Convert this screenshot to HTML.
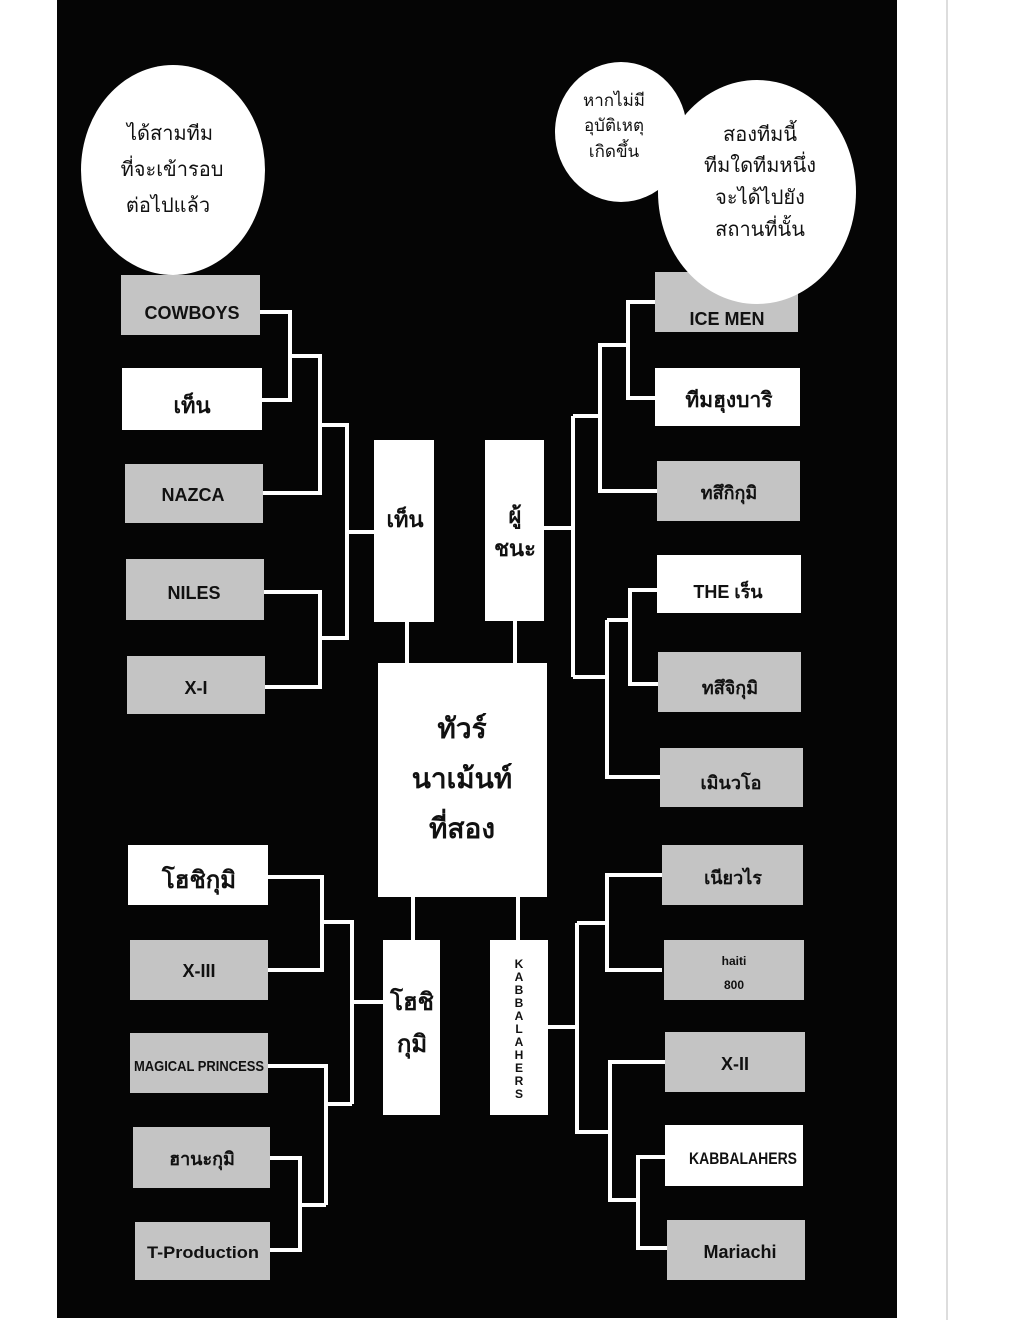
<!DOCTYPE html>
<html><head><meta charset="utf-8"><style>
html,body{margin:0;padding:0;background:#fff;}
svg{display:block;}
text{font-family:"Liberation Sans","DejaVu Sans",sans-serif;font-weight:bold;fill:#111;text-anchor:middle;}
.b{font-weight:normal;}
</style></head><body>
<svg width="1020" height="1320" viewBox="0 0 1020 1320" xmlns="http://www.w3.org/2000/svg">
<rect width="1020" height="1320" fill="#fff"/>
<rect x="57" y="0" width="840" height="1318" fill="#050505"/>
<line x1="947" y1="0" x2="947" y2="1320" stroke="#ddd" stroke-width="2"/>

<!-- connectors -->
<g stroke="#fff" stroke-width="4" fill="none">
<!-- left top -->
<polyline points="260,312 290,312 290,400 262,400"/>
<polyline points="290,356 320,356 320,493 263,493"/>
<polyline points="320,425 347,425 347,638 320,638"/>
<polyline points="264,592 320,592 320,687 265,687"/>
<line x1="347" y1="532" x2="374" y2="532"/>
<!-- right top -->
<line x1="544" y1="528" x2="573" y2="528"/>
<polyline points="573,416 573,677"/>
<polyline points="573,416 600,416 600,345 628,345"/>
<polyline points="600,416 600,491 657,491"/>
<polyline points="655,302 628,302 628,398 655,398"/>
<polyline points="573,677 607,677"/>
<polyline points="607,620 607,777 660,777"/>
<polyline points="607,620 630,620"/>
<polyline points="657,590 630,590 630,684 658,684"/>
<!-- center -->
<line x1="407" y1="622" x2="407" y2="663"/>
<line x1="515" y1="621" x2="515" y2="663"/>
<line x1="413" y1="897" x2="413" y2="940"/>
<line x1="518" y1="897" x2="518" y2="940"/>
<!-- left bottom -->
<polyline points="268,877 322,877 322,970 268,970"/>
<polyline points="322,922 352,922 352,1104"/>
<line x1="352" y1="1002" x2="383" y2="1002"/>
<polyline points="268,1066 326,1066 326,1205"/>
<line x1="326" y1="1104" x2="352" y2="1104"/>
<polyline points="270,1158 300,1158 300,1250 270,1250"/>
<line x1="300" y1="1205" x2="326" y2="1205"/>
<!-- right bottom -->
<line x1="548" y1="1027" x2="577" y2="1027"/>
<polyline points="577,923 577,1132 610,1132"/>
<polyline points="662,875 607,875 607,970 662,970"/>
<line x1="577" y1="923" x2="607" y2="923"/>
<polyline points="665,1062 610,1062 610,1200 638,1200"/>
<polyline points="665,1157 638,1157 638,1248 667,1248"/>
</g>

<!-- gray boxes -->
<g fill="#c4c4c4">
<rect x="121" y="275" width="139" height="60"/>
<rect x="125" y="464" width="138" height="59"/>
<rect x="126" y="559" width="138" height="61"/>
<rect x="127" y="656" width="138" height="58"/>
<rect x="655" y="272" width="143" height="60"/>
<rect x="657" y="461" width="143" height="60"/>
<rect x="658" y="652" width="143" height="60"/>
<rect x="660" y="748" width="143" height="59"/>
<rect x="662" y="845" width="141" height="60"/>
<rect x="664" y="940" width="140" height="60"/>
<rect x="665" y="1032" width="140" height="60"/>
<rect x="667" y="1220" width="138" height="60"/>
<rect x="130" y="940" width="138" height="60"/>
<rect x="130" y="1033" width="138" height="60"/>
<rect x="133" y="1127" width="137" height="61"/>
<rect x="135" y="1222" width="135" height="58"/>
</g>
<!-- white boxes -->
<g fill="#fff">
<rect x="122" y="368" width="140" height="62"/>
<rect x="655" y="368" width="145" height="58"/>
<rect x="657" y="555" width="144" height="58"/>
<rect x="665" y="1125" width="138" height="61"/>
<rect x="128" y="845" width="140" height="60"/>
<rect x="374" y="440" width="60" height="182"/>
<rect x="485" y="440" width="59" height="181"/>
<rect x="378" y="663" width="169" height="234"/>
<rect x="383" y="940" width="57" height="175"/>
<rect x="490" y="940" width="58" height="175"/>
</g>

<!-- bubbles -->
<g fill="#fff">
<ellipse cx="173" cy="170" rx="92" ry="105"/>
<ellipse cx="621" cy="132" rx="66" ry="70"/>
<ellipse cx="757" cy="192" rx="99" ry="112"/>
</g>
<g font-size="20">
<text class="b" x="170" y="140">ได้สามทีม</text>
<text class="b" x="172" y="176">ที่จะเข้ารอบ</text>
<text class="b" x="168" y="212">ต่อไปแล้ว</text>
<text class="b" x="614" y="106" font-size="17">หากไม่มี</text>
<text class="b" x="614" y="131" font-size="17">อุบัติเหตุ</text>
<text class="b" x="614" y="157" font-size="17">เกิดขึ้น</text>
<text class="b" x="760" y="141">สองทีมนี้</text>
<text class="b" x="760" y="172">ทีมใดทีมหนึ่ง</text>
<text class="b" x="760" y="204">จะได้ไปยัง</text>
<text class="b" x="760" y="236">สถานที่นั้น</text>
</g>

<!-- labels -->
<g font-size="18">
<text x="192" y="319">COWBOYS</text>
<text x="192" y="413" font-size="22">เท็น</text>
<text x="193" y="501">NAZCA</text>
<text x="194" y="599">NILES</text>
<text x="196" y="694">X-I</text>
<text x="727" y="325">ICE MEN</text>
<text x="729" y="407" font-size="21">ทีมฮุงบาริ</text>
<text x="729" y="499">ทสึกิกุมิ</text>
<text x="728" y="598">THE เร็น</text>
<text x="730" y="694">ทสึจิกุมิ</text>
<text x="731" y="789">เมินวโอ</text>
<text x="733" y="884">เนียวไร</text>
<text x="734" y="965" font-size="12">haiti</text>
<text x="734" y="989" font-size="12">800</text>
<text x="735" y="1070">X-II</text>
<text x="743" y="1164" font-size="17" textLength="108" lengthAdjust="spacingAndGlyphs">KABBALAHERS</text>
<text x="740" y="1258">Mariachi</text>
<text x="199" y="888" font-size="24">โฮชิกุมิ</text>
<text x="199" y="977">X-III</text>
<text x="199" y="1071" font-size="15" textLength="130" lengthAdjust="spacingAndGlyphs">MAGICAL PRINCESS</text>
<text x="202" y="1165">ฮานะกุมิ</text>
<text x="203" y="1258" font-size="17" textLength="112" lengthAdjust="spacingAndGlyphs">T-Production</text>
<text x="405" y="527" font-size="22">เท็น</text>
<text x="515" y="523" font-size="22">ผู้</text>
<text x="515" y="556" font-size="22">ชนะ</text>
<text x="462" y="738" font-size="28">ทัวร์</text>
<text x="462" y="788" font-size="28">นาเม้นท์</text>
<text x="462" y="838" font-size="28">ที่สอง</text>
<text x="412" y="1010" font-size="24">โฮชิ</text>
<text x="412" y="1052" font-size="24">กุมิ</text>
</g>
<g font-size="12">
<text x="519" y="968">K</text>
<text x="519" y="981">A</text>
<text x="519" y="994">B</text>
<text x="519" y="1007">B</text>
<text x="519" y="1020">A</text>
<text x="519" y="1033">L</text>
<text x="519" y="1046">A</text>
<text x="519" y="1059">H</text>
<text x="519" y="1072">E</text>
<text x="519" y="1085">R</text>
<text x="519" y="1098">S</text>
</g>
</svg>
</body></html>
